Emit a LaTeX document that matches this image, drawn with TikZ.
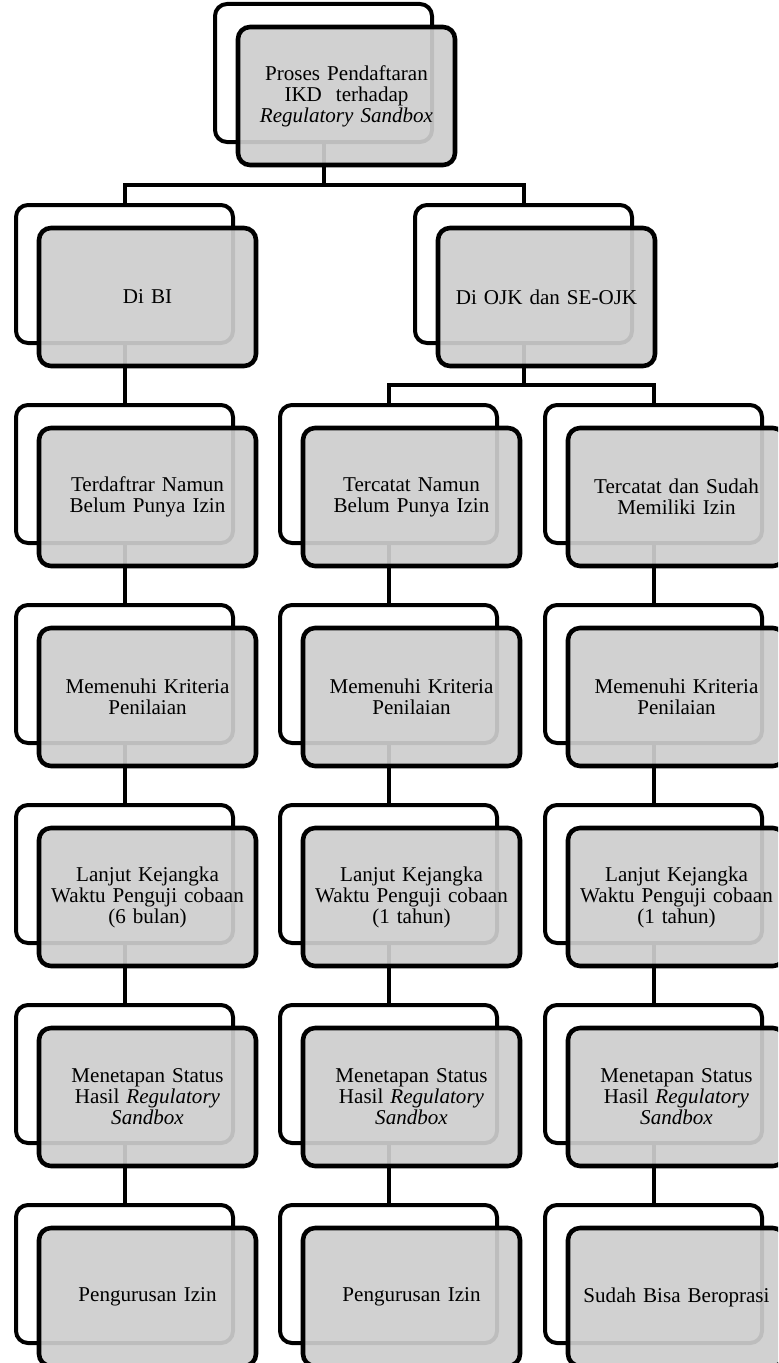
\documentclass[tikz,border=0pt]{standalone}
\usepackage{fontspec}
\setmainfont{Liberation Serif}
\usetikzlibrary{backgrounds}
\definecolor{boxgray}{RGB}{206,206,206}
\tikzset{
  backbox/.style={draw=black, line width=3pt, fill=white, rounded corners=9pt,
    minimum width=162.75pt, minimum height=103.5pt, inner sep=0pt, outer sep=0pt, anchor=north west},
  frontbox/.style={draw=black, line width=3.4pt, fill=boxgray, fill opacity=0.92, text opacity=1,
    rounded corners=9pt, minimum width=162.75pt, minimum height=103.5pt, inner sep=0pt, outer sep=0pt,
    anchor=north west, text width=152pt, align=center,
    font=\fontsize{15.8}{15.8}\selectfont},
  conn/.style={draw=black, line width=3pt}
}
\newcommand\mybox[4]{%
  \node[backbox] (#1b) at (#2,#3) {};
  \node[frontbox] (#1) at (#2+23,#3+23) {#4};
}
\begin{document}
\begin{tikzpicture}[x=0.75pt,y=-0.75pt]
\useasboundingbox (0,0) rectangle (778,1363);
\clip (0,0) rectangle (778,1363);
\mybox{top}{215}{4}{Proses Pendaftaran\\ IKD~ terhadap\\ \textit{Regulatory Sandbox}}
\mybox{bi}{16}{205}{Di BI}
\mybox{ojk}{415}{205}{Di OJK dan SE-OJK}
% column A
\mybox{aa}{16}{405}{Terdaftrar Namun\\ Belum Punya Izin}
\mybox{ab}{16}{605}{Memenuhi Kriteria\\ Penilaian}
\mybox{ac}{16}{805}{Lanjut Kejangka\\ Waktu Penguji cobaan\\ (6 bulan)}
\mybox{ad}{16}{1005}{Menetapan Status\\ Hasil \textit{Regulatory}\\ \textit{Sandbox}}
\mybox{ae}{16}{1205}{Pengurusan Izin}
% column B
\mybox{ba}{280}{405}{Tercatat Namun\\ Belum Punya Izin}
\mybox{bb}{280}{605}{Memenuhi Kriteria\\ Penilaian}
\mybox{bc}{280}{805}{Lanjut Kejangka\\ Waktu Penguji cobaan\\ (1 tahun)}
\mybox{bd}{280}{1005}{Menetapan Status\\ Hasil \textit{Regulatory}\\ \textit{Sandbox}}
\mybox{be}{280}{1205}{Pengurusan Izin}
% column C
\mybox{ca}{545}{405}{Tercatat dan Sudah\\ Memiliki Izin}
\mybox{cb}{545}{605}{Memenuhi Kriteria\\ Penilaian}
\mybox{cc}{545}{805}{Lanjut Kejangka\\ Waktu Penguji cobaan\\ (1 tahun)}
\mybox{cd}{545}{1005}{Menetapan Status\\ Hasil \textit{Regulatory}\\ \textit{Sandbox}}
\mybox{ce}{545}{1205}{Sudah Bisa Beroprasi}
\coordinate (bus1) at (0,185);
\coordinate (bus2) at (0,385);
\begin{pgfonlayer}{background}
\fill[white] (0,0) rectangle (778,1363);
\draw[conn] (topb.south) -- (topb.south |- bus1) -| (bib.north);
\draw[conn] (topb.south |- bus1) -| (ojkb.north);
\draw[conn] (ojkb.south) -- (ojkb.south |- bus2) -| (bab.north);
\draw[conn] (ojkb.south |- bus2) -| (cab.north);
\draw[conn] (bib.south) -- (aab.north);
\draw[conn] (aab.south) -- (abb.north);
\draw[conn] (abb.south) -- (acb.north);
\draw[conn] (acb.south) -- (adb.north);
\draw[conn] (adb.south) -- (aeb.north);
\draw[conn] (bab.south) -- (bbb.north);
\draw[conn] (bbb.south) -- (bcb.north);
\draw[conn] (bcb.south) -- (bdb.north);
\draw[conn] (bdb.south) -- (beb.north);
\draw[conn] (cab.south) -- (cbb.north);
\draw[conn] (cbb.south) -- (ccb.north);
\draw[conn] (ccb.south) -- (cdb.north);
\draw[conn] (cdb.south) -- (ceb.north);
\end{pgfonlayer}
\end{tikzpicture}
\end{document}
